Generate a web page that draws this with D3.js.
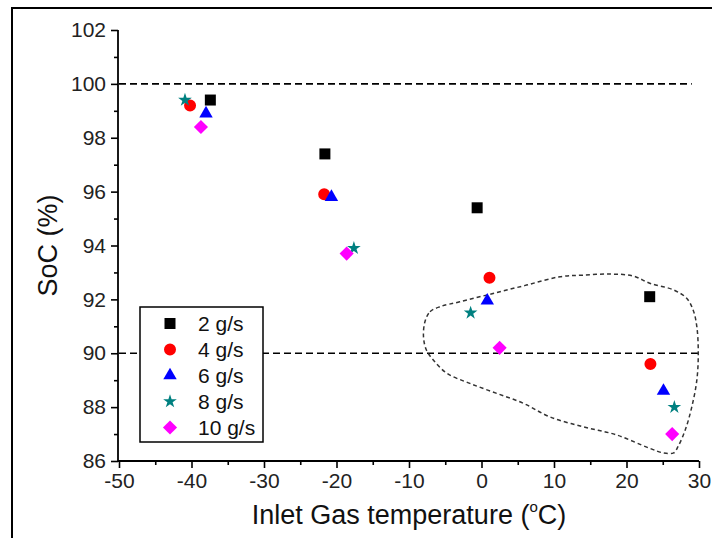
<!DOCTYPE html>
<html>
<head>
<meta charset="utf-8">
<script src="https://cdn.jsdelivr.net/npm/d3@7"></script>
<style>
  html, body { margin: 0; padding: 0; background: #fff; }
  svg { display: block; font-family: "Liberation Sans", Arial, sans-serif; }
</style>
</head>
<body>
<svg id="chart" width="712" height="538"></svg>
<script>
// Inlet gas temperature (°C) and state of charge (%) per mass flow rate
const seriesNames = ["2 g/s", "4 g/s", "6 g/s", "8 g/s", "10 g/s"];
const seriesColors = ["#000000", "#ff0000", "#0000ff", "#008080", "#ff00ff"];
const seriesSymbols = ["square", "circle", "triangle", "star", "diamond"];

const temp2 = [-37.4, -21.6, -0.6, 23.2];
const soc2 = [99.4, 97.4, 95.4, 92.1];
const temp4 = [-40.2, -21.7, 1.1, 23.3];
const soc4 = [99.2, 95.9, 92.8, 89.6];
const temp6 = [-38.0, -20.7, 0.8, 25.1];
const soc6 = [98.9, 95.8, 91.95, 88.6];
const temp8 = [-40.9, -17.6, -1.5, 26.6];
const soc8 = [99.4, 93.9, 91.5, 88.0];
const temp10 = [-38.7, -18.6, 2.5, 26.3];
const soc10 = [98.4, 93.7, 90.2, 87.0];

// Reference SoC levels (dashed lines) and the extent of each line
const refSoc = [100, 90];
const refEnd = [29, 30];

// Outline encircling the warm-gas region (temperature, SoC)
const outlineTemp = [-7.8, -7.1, -5.7, -3.0, 1.6, 6.2, 10.8, 14.0, 17.7, 20.9, 23.2, 26.5, 28.3, 29.2, 29.7, 29.9, 29.7, 29.0, 28.1, 27.1, 26.5, 25.1, 23.2, 18.6, 14.0, 9.4, 5.8, 2.1, -1.6, -4.8, -6.65, -7.6, -8.0];
const outlineSoc = [91.17, 91.54, 91.73, 91.91, 92.22, 92.53, 92.84, 92.9, 92.94, 92.87, 92.6, 92.35, 92.04, 91.6, 90.99, 90.0, 89.0, 88.0, 87.15, 86.53, 86.3, 86.3, 86.47, 86.97, 87.27, 87.64, 88.14, 88.51, 88.88, 89.26, 89.75, 90.12, 90.61];

const xTicks = [-50, -40, -30, -20, -10, 0, 10, 20, 30];
const xMinor = [-45, -35, -25, -15, -5, 5, 15, 25];
const yTicks = [86, 88, 90, 92, 94, 96, 98, 100, 102];
const yMinor = [87, 89, 91, 93, 95, 97, 99, 101];

const xLabel = "Inlet Gas temperature (";
const yLabel = "SoC (%)";

const series = [
  { temp: temp2, soc: soc2 },
  { temp: temp4, soc: soc4 },
  { temp: temp6, soc: soc6 },
  { temp: temp8, soc: soc8 },
  { temp: temp10, soc: soc10 }
].map((s, i) => ({
  name: seriesNames[i], color: seriesColors[i], symbol: seriesSymbols[i],
  points: s.temp.map((t, j) => ({ t, v: s.soc[j] }))
}));

const svg = d3.select("#chart");
const plot = { left: 119, right: 699, top: 30, bottom: 461 };

const x = d3.scaleLinear().domain([-50, 30]).range([plot.left, plot.right]);
const y = d3.scaleLinear().domain([86, 102]).range([plot.bottom, plot.top]);

// Integer labels with a plain hyphen as the minus sign
const fmt = d => String(d);

// Outer frame
svg.append("rect")
  .attr("x", 12).attr("y", 8).attr("width", 740).attr("height", 560)
  .attr("fill", "none").attr("stroke", "#000").attr("stroke-width", 2);

// Symbol generators
function symbolPath(kind) {
  const map = {
    square: [d3.symbolSquare, 121],
    circle: [d3.symbolCircle, 113],
    triangle: [d3.symbolTriangle, 78],
    star: [d3.symbolStar, 58],
    diamond: [d3.symbolSquare, 100]
  };
  const [type, size] = map[kind];
  return d3.symbol().type(type).size(size)();
}
function symbolTransform(kind, px, py) {
  return kind === "diamond"
    ? `translate(${px},${py}) rotate(45)`
    : `translate(${px},${py})`;
}

// Reference dashed lines
svg.append("g").selectAll("line")
  .data(refSoc.map((v, i) => ({ v, end: refEnd[i] })))
  .join("line")
  .attr("x1", x(-50)).attr("x2", d => x(d.end))
  .attr("y1", d => y(d.v)).attr("y2", d => y(d.v))
  .attr("stroke", "#000").attr("stroke-width", 1.6)
  .attr("stroke-dasharray", "7,4");

// Encircling outline
const outline = outlineTemp.map((t, i) => [x(t), y(outlineSoc[i])]);
svg.append("path")
  .attr("d", d3.line().curve(d3.curveCatmullRomClosed.alpha(0.5))(outline))
  .attr("fill", "none").attr("stroke", "#333").attr("stroke-width", 1.5)
  .attr("stroke-dasharray", "4,3");

// Axes
const gx = svg.append("g").attr("transform", `translate(0,${plot.bottom})`)
  .call(d3.axisBottom(x).tickValues(xTicks).tickSize(7).tickPadding(5).tickFormat(fmt));
svg.append("g").attr("transform", `translate(0,${plot.bottom})`)
  .call(d3.axisBottom(x).tickValues(xMinor).tickSize(4).tickFormat(""))
  .select(".domain").remove();

const gy = svg.append("g").attr("transform", `translate(${plot.left - 1},0)`)
  .call(d3.axisLeft(y).tickValues(yTicks).tickSize(7).tickPadding(5).tickFormat(fmt));
svg.append("g").attr("transform", `translate(${plot.left - 1},0)`)
  .call(d3.axisLeft(y).tickValues(yMinor).tickSize(4).tickFormat(""))
  .select(".domain").remove();

svg.selectAll(".domain").attr("stroke", "#000").attr("stroke-width", 1.8);
svg.selectAll(".tick line").attr("stroke", "#000").attr("stroke-width", 1.6);
gx.select(".domain").attr("d", `M${plot.left - 1},0H${plot.right}`);
gy.select(".domain").attr("d", `M0,${y(102)}V${plot.bottom + 1}`);
svg.selectAll(".tick text").attr("font-size", 21).attr("fill", "#222")
  .attr("font-family", "Liberation Sans, Arial, sans-serif");

// Axis titles
const xt = svg.append("text")
  .attr("x", (plot.left + plot.right) / 2).attr("y", 524)
  .attr("text-anchor", "middle").attr("font-size", 27).attr("fill", "#111");
xt.append("tspan").text(xLabel);
xt.append("tspan").attr("font-size", 15).attr("dy", -12).text("o");
xt.append("tspan").attr("dy", 12).text("C)");

svg.append("text")
  .attr("transform", `translate(57,${(plot.top + plot.bottom) / 2}) rotate(-90)`)
  .attr("text-anchor", "middle").attr("font-size", 27).attr("fill", "#111")
  .text(yLabel);

// Data markers
const gm = svg.append("g");
series.forEach(s => {
  gm.append("g").selectAll("path")
    .data(s.points)
    .join("path")
    .attr("d", symbolPath(s.symbol))
    .attr("transform", d => symbolTransform(s.symbol, x(d.t), y(d.v)))
    .attr("fill", s.color);
});

// Legend
const lg = svg.append("g");
lg.append("rect")
  .attr("x", 140).attr("y", 307).attr("width", 123).attr("height", 135)
  .attr("fill", "#fff").attr("stroke", "#000").attr("stroke-width", 1.5);
series.forEach((s, i) => {
  const cy = 323.5 + i * 26;
  lg.append("path").attr("d", symbolPath(s.symbol))
    .attr("transform", symbolTransform(s.symbol, 170, cy)).attr("fill", s.color);
  lg.append("text").attr("x", 198).attr("y", cy + 7)
    .attr("font-size", 21).attr("fill", "#111").text(s.name);
});
</script>
</body>
</html>
